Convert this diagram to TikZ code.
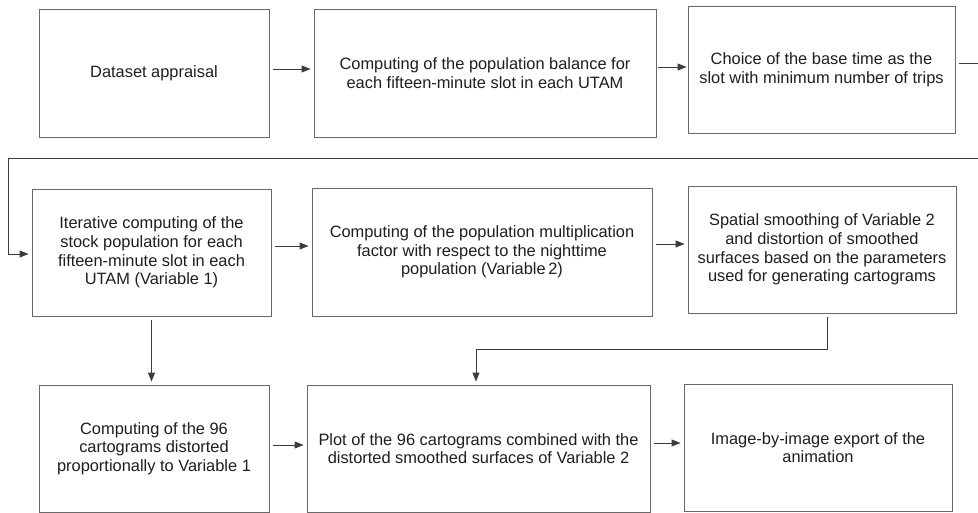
\documentclass[tikz,border=0pt]{standalone}
\usepackage{fontspec}
\setmainfont{Liberation Sans}
\usetikzlibrary{arrows.meta,calc}
\definecolor{boxline}{RGB}{105,105,105}
\definecolor{conline}{RGB}{60,60,60}
\definecolor{txt}{RGB}{30,30,30}
\tikzset{
  stepbox/.style={draw=boxline, line width=0.9pt, rectangle, inner sep=0pt, align=center,
    text=txt, font=\fontsize{16.4}{18.6}\selectfont},
  arr/.style={draw=conline, line width=0.9pt, -{Triangle[length=9pt,width=7pt]},
    shorten <=4pt, shorten >=3pt},
  plain/.style={draw=conline, line width=0.9pt}
}
\begin{document}
\begin{tikzpicture}[x=1pt,y=-1pt]
\useasboundingbox (0,0) rectangle (978,513);
\clip (0,0) rectangle (978,513);
\fill[white] (0,0) rectangle (978,513);
% row 1
\node[stepbox, minimum width=230pt, minimum height=128pt] (A) at (154,73) {Dataset appraisal};
\node[stepbox, minimum width=342pt, minimum height=128pt] (B) at (485,73) {Computing of the population balance for\\each fifteen-minute slot in each UTAM};
\node[stepbox, minimum width=267pt, minimum height=127pt] (C) at (821.5,69.5) {Choice of the base time as the\\slot with minimum number of trips};
% row 2
\node[stepbox, minimum width=239pt, minimum height=127pt] (D) at (151.5,252.5) {Iterative computing of the\\stock population for each\\fifteen-minute slot in each\\UTAM (Variable 1)};
\node[stepbox, minimum width=340pt, minimum height=128pt] (E) at (482,252) {Computing of the population multiplication\\factor with respect to the nighttime\\population (Variable\,2)};
\node[stepbox, minimum width=268pt, minimum height=127pt] (F) at (822,249.5) {Spatial smoothing of Variable 2\\and distortion of smoothed\\surfaces based on the parameters\\used for generating cartograms};
% row 3
\node[stepbox, minimum width=230pt, minimum height=127pt] (G) at (154,448.5) {Computing of the 96\\cartograms distorted\\proportionally to Variable 1};
\node[stepbox, minimum width=343pt, minimum height=127pt] (H) at (478.5,448.5) {Plot of the 96 cartograms combined with the\\distorted smoothed surfaces of Variable 2};
\node[stepbox, minimum width=268pt, minimum height=127pt] (I) at (818,447.5) {Image-by-image export of the\\animation};
% helper coordinates for the wrap-around connector
\coordinate (wr) at (1000,158);
\coordinate (wl) at (8,158);
\coordinate (fh) at (0,349);
% connectors
\draw[arr] ([yshift=4pt]A.east) -- ([yshift=4pt]A.east -| B.west);
\draw[arr,shorten <=2pt,shorten >=1pt] ([yshift=6pt]B.east) -- ([yshift=6pt]B.east -| C.west);
\draw[arr] ([yshift=6.5pt]C.east) -- ([yshift=6.5pt]C.east -| wr) -- (wr) -- (wl) -- ([yshift=-1.5pt]wl |- D.west) -- ([yshift=-1.5pt]D.west);
\draw[arr] ([yshift=6.5pt]D.east) -- ([yshift=6.5pt]D.east -| E.west);
\draw[arr] ([yshift=8pt]E.east) -- ([yshift=8pt]E.east -| F.west);
\draw[arr] (D.south) -- (D.south |- G.north);
\draw[arr] ([xshift=5pt]F.south) -- ([xshift=5pt]F.south |- fh) -- ([xshift=-2.5pt]H.north |- fh) -- ([xshift=-2.5pt]H.north);
\draw[arr] ([yshift=3.5pt]G.east) -- ([yshift=3.5pt]G.east -| H.west);
\draw[arr] ([yshift=5.5pt]H.east) -- ([yshift=5.5pt]H.east -| I.west);
\end{tikzpicture}
\end{document}
